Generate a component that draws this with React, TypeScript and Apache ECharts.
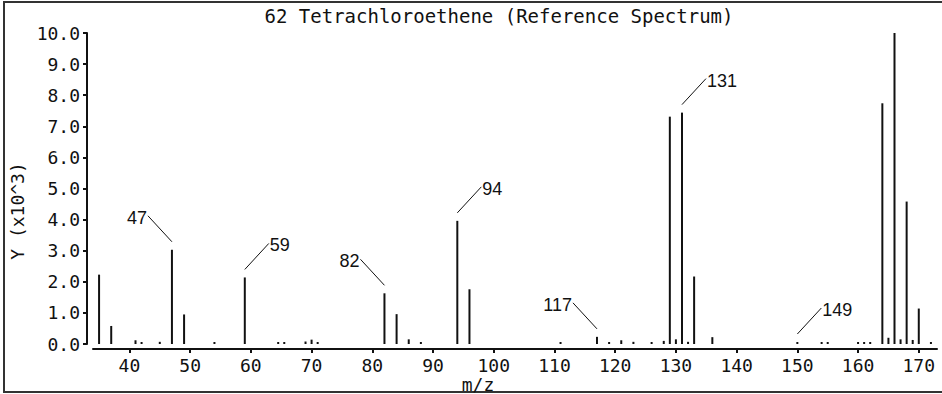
import React, { useEffect, useRef } from "react";
import * as echarts from "echarts";

const chartTitle = "62 Tetrachloroethene (Reference Spectrum)";
const yAxisTitle = "Y (x10^3)";
const xAxisTitle = "m/z";

// peak positions (m/z) and intensities (x10^3)
const mzValues = [
  35, 37, 41, 42, 45, 47, 49, 54, 59,
  64.5, 65.5, 69, 70, 71,
  82, 84, 86, 88,
  94, 96,
  111, 117, 119, 121, 123, 126, 128,
  129, 130, 131, 132, 133, 136,
  150, 154, 155,
  160, 161, 162,
  164, 165, 166, 167, 168, 169, 170, 172,
];
const intensities = [
  2.23, 0.58, 0.12, 0.05, 0.07, 3.03, 0.95, 0.03, 2.14,
  0.06, 0.03, 0.08, 0.14, 0.04,
  1.63, 0.96, 0.15, 0.03,
  3.96, 1.76,
  0.05, 0.23, 0.04, 0.12, 0.07, 0.04, 0.1,
  7.31, 0.15, 7.44, 0.07, 2.17, 0.22,
  0.05, 0.04, 0.06,
  0.05, 0.05, 0.06,
  7.74, 0.2, 10.0, 0.15, 4.58, 0.13, 1.14, 0.06,
];

// annotated peaks
const annotatedMz = [47, 59, 82, 94, 117, 131, 150];
const annotationText = ["47", "59", "82", "94", "117", "131", "149"];

const xTickValues = [40, 50, 60, 70, 80, 90, 100, 110, 120, 130, 140, 150, 160, 170];
const yMin = 0;
const yMax = 10;
const yStep = 1;
const xMin = 34;
const xMax = 173;

// layout (not data)
const leftLabelled = new Set(["47", "82", "117"]);
const INK = "#111";
const MONO = '"DejaVu Sans Mono", "Liberation Mono", monospace';

export default function App() {
  const ref = useRef<HTMLDivElement>(null);

  useEffect(() => {
    if (!ref.current) return;
    const chart = echarts.init(ref.current, undefined, { renderer: "svg" });

    const peaks = mzValues.map((m, i) => [m, intensities[i]]);
    const annData = annotatedMz.map((m) => {
      const i = mzValues.indexOf(m);
      return [m, intensities[i]];
    });

    const option: any = {
      animation: false,
      backgroundColor: "#fff",
      grid: { left: 93, right: 5, top: 33, bottom: 50, containLabel: false },
      xAxis: {
        type: "value",
        min: xMin,
        max: xMax,
        offset: 5,
        axisLine: { show: true, onZero: false, lineStyle: { color: INK, width: 2 } },
        axisTick: {
          show: true,
          length: 4,
          customValues: xTickValues,
          lineStyle: { color: INK, width: 2 },
        },
        axisLabel: {
          customValues: xTickValues,
          margin: 7,
          color: INK,
          fontFamily: MONO,
          fontSize: 18,
        },
        splitLine: { show: false },
      },
      yAxis: {
        type: "value",
        min: yMin,
        max: yMax,
        interval: yStep,
        offset: 6,
        axisLine: { show: true, onZero: false, lineStyle: { color: INK, width: 2 } },
        axisTick: { show: true, length: 4, lineStyle: { color: INK, width: 2 } },
        axisLabel: {
          margin: 7,
          color: INK,
          fontFamily: MONO,
          fontSize: 18,
          formatter: (v: number) => v.toFixed(1),
        },
        splitLine: { show: false },
      },
      series: [
        {
          type: "bar",
          data: peaks,
          barWidth: 2,
          barMinHeight: 2,
          itemStyle: { color: INK },
          silent: true,
        },
        {
          type: "custom",
          data: annData,
          clip: false,
          silent: true,
          encode: { x: 0, y: 1 },
          renderItem: (params: any, api: any) => {
            const idx = params.dataIndex;
            const txt = annotationText[idx];
            const p = api.coord([api.value(0), api.value(1)]);
            const left = leftLabelled.has(txt);
            const sx = p[0];
            const sy = Math.min(p[1], api.coord([0, 0])[1] - 2) - 8;
            const ex = sx + (left ? -24 : 24);
            const ey = sy - 26;
            return {
              type: "group",
              children: [
                {
                  type: "line",
                  shape: { x1: sx, y1: sy, x2: ex, y2: ey },
                  style: { stroke: INK, lineWidth: 1 },
                },
                {
                  type: "text",
                  style: {
                    text: txt,
                    x: ex + (left ? -1 : 1),
                    y: ey + 2,
                    align: left ? "right" : "left",
                    verticalAlign: "middle",
                    font: '18px "Liberation Sans", Arial, sans-serif',
                    fill: INK,
                  },
                },
              ],
            };
          },
        },
      ],
      graphic: [
        {
          type: "rect",
          shape: { x: 4, y: 2, width: 960, height: 390 },
          style: { fill: "none", stroke: "#333", lineWidth: 2 },
          silent: true,
        },
        {
          type: "text",
          x: 499,
          y: 16,
          style: {
            text: chartTitle,
            align: "center",
            verticalAlign: "middle",
            font: `19px ${MONO}`,
            fill: INK,
          },
        },
        {
          type: "text",
          x: 17,
          y: 211,
          rotation: Math.PI / 2,
          style: {
            text: yAxisTitle,
            align: "center",
            verticalAlign: "middle",
            font: `18px ${MONO}`,
            fill: INK,
          },
        },
        {
          type: "text",
          x: 478,
          y: 384,
          style: {
            text: xAxisTitle,
            align: "center",
            verticalAlign: "middle",
            font: `18px ${MONO}`,
            fill: INK,
          },
        },
      ],
    };

    chart.setOption(option);
    return () => chart.dispose();
  }, []);

  return (
    <div
      ref={ref}
      style={{ position: "fixed", left: 0, top: 0, width: 942, height: 394, background: "#fff" }}
    />
  );
}
